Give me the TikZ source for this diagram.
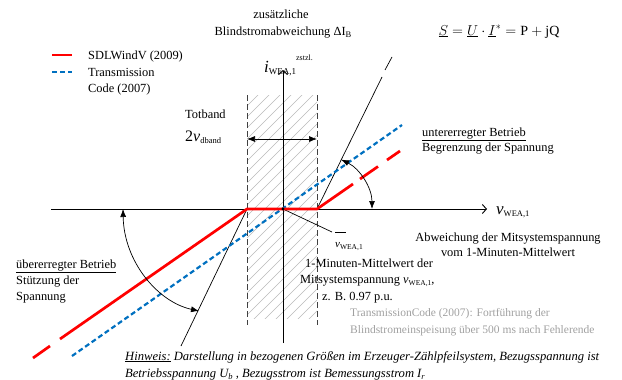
\documentclass[tikz,border=0pt]{standalone}
\usepackage{fontspec}
\setmainfont{Liberation Serif}
\usetikzlibrary{arrows.meta}
\definecolor{sdlred}{RGB}{255,0,0}
\definecolor{tcblue}{RGB}{0,112,192}
\definecolor{notegray}{RGB}{160,160,160}
% small lowered index in text mode
\newcommand{\ix}[2][8.5]{\raisebox{-2.5pt}{\fontsize{#1}{#1}\selectfont #2}}

\begin{document}
\begin{tikzpicture}[x=1pt, y=-1pt, font=\fontsize{12.4}{15}\selectfont,
    txt/.style={inner sep=0pt, anchor=base west},
    ctxt/.style={inner sep=0pt, anchor=base},
    hatch/.style={gray!55, line width=0.5pt},
    band/.style={gray!50!black, dash pattern=on 6pt off 3pt, line width=0.8pt},
    axis/.style={line width=0.9pt, -{Straight Barb[length=4pt, width=9pt]}},
    guide/.style={line width=0.7pt},
    redline/.style={sdlred, line width=2.7pt},
    blueline/.style={tcblue, line width=2.2pt, dash pattern=on 5pt off 3pt},
    angarr/.style={line width=0.7pt, {Latex[length=8pt, width=6pt]}-{Latex[length=8pt, width=6pt]}}]
  \useasboundingbox (0,0) rectangle (622,380);
  % key points on the axes
  \coordinate (O) at (283,209);
  \coordinate (dL) at (247,209);
  \coordinate (dR) at (317,209);
  % dead band: hatching and dashed borders
  \begin{scope}
    \clip (247,95) rectangle (317,318);
    \foreach \k in {0,11,...,308} \draw[hatch] (247,95+\k) -- ++(80,-80);
  \end{scope}
  \coordinate (bLt) at (247,95);  \coordinate (bLb) at (247,325);
  \coordinate (bRt) at (317,95);  \coordinate (bRb) at (317,325);
  \draw[band] (bLt) -- (bLb);
  \draw[band] (bRt) -- (bRb);
  \coordinate (dbL) at (247,139); \coordinate (dbR) at (317,139);
  \draw[angarr] (dbL) -- (dbR);
  % axes
  \coordinate (xs) at (51,209);  \coordinate (xe) at (487,209);
  \coordinate (ys) at (283,343); \coordinate (ye) at (283,70);
  \draw[axis] (xs) -- (xe);
  \draw[axis] (ys) -- (ye);
  % slope limits and mean value pointer
  \coordinate (gL) at (181,346);
  \coordinate (gR) at (382,77);
  \coordinate (gR1) at (385,70); \coordinate (gR2) at (392,57);
  \coordinate (mv) at (332,232);
  \draw[guide] (dL) -- (gL);
  \draw[guide] (dR) -- (gR);
  \draw[guide] (gR1) -- (gR2);
  \draw[guide] (O) -- (mv);
  % characteristics
  \coordinate (tcA) at (72,356); \coordinate (tcB) at (402,125);
  \draw[blueline] (tcA) -- (tcB);
  \coordinate (sA) at (60,339); \coordinate (sB) at (353,184);
  \draw[redline, line join=round] (sA) -- (dL) -- (dR) -- (sB);
  \foreach \a/\b in {{(50,346)}/{(33,358)}, {(360,179)}/{(378,166.5)}, {(387,160)}/{(400,151)}}
    \draw[redline] \a -- \b;
  \fill (O) circle (1.6pt);
  % angle arrows
  \coordinate (aL1) at (123,209); \coordinate (aL2) at (199,311);
  \draw[angarr] (aL1) .. controls (124,262) and (158,302) .. (aL2);
  \coordinate (aR1) at (372,209);
  \draw[angarr] (aR1) arc[start angle=0, end angle=64, radius=55pt];
  % legend
  \coordinate (lr1) at (52,55); \coordinate (lr2) at (72,55);
  \coordinate (lb1) at (52,72); \coordinate (lb2) at (72,72);
  \draw[redline] (lr1) -- (lr2);
  \draw[blueline] (lb1) -- (lb2);
  \node[txt] (leg1) at (88,59) {SDLWindV (2009)};
  \node[txt] (leg2) at (88,76) {Transmission};
  \node[txt] (leg3) at (88,92) {Code (2007)};
  % labels
  \node[ctxt] (zus1) at (281,19) {zusätzliche};
  \node[ctxt] (zus2) at (283,35) {Blindstromabweichung ΔI\ix{B}};
  \node[ctxt] (sform) at (499,35) {\fontsize{14}{16}\selectfont
    $\underline{S} = \underline{U}\cdot\underline{I}^{*} = \mathrm{P} + \mathrm{jQ}$};
  \node[txt] (ilab) at (264,72) {\fontsize{17}{18}\selectfont\textit{i}\ix[9]{WEA,1}%
    \raisebox{12pt}{\fontsize{8}{8}\selectfont zstzl.}};
  \node[txt] (vlab) at (496,214) {\fontsize{17}{18}\selectfont\textit{v}\ix{WEA,1}};
  \node[txt] (tot) at (185,118) {Totband};
  \node[txt] (dband) at (185,141) {\fontsize{16}{18}\selectfont 2\textit{v}\ix{dband}};
  \node[txt] (vbar) at (335,247) {\fontsize{11}{12}\selectfont
    \makebox[0pt][l]{\raisebox{14pt}{\rule{11pt}{0.6pt}}}\textit{v}\ix[7.5]{WEA,1}};
  \node[txt] (ue1) at (422,136) {\underline{untererregter Betrieb}};
  \node[txt] (ue2) at (422,151) {Begrenzung der Spannung};
  \node[ctxt] (ab1) at (508,241) {Abweichung der Mitsystemspannung};
  \node[ctxt] (ab2) at (508,256) {vom 1-Minuten-Mittelwert};
  \node[txt] (mw1) at (305,267) {1-Minuten-Mittelwert der};
  \node[txt] (mw2) at (300,283) {Mitsystemspannung \textit{v}\ix[7.5]{WEA,1},};
  \node[txt] (mw3) at (322,300) {z. B. 0.97 p.u.};
  \node[txt] (ub1) at (16,268) {\underline{übererregter Betrieb}};
  \node[txt] (ub2) at (16,284) {Stützung der};
  \node[txt] (ub3) at (16,300) {Spannung};
  \node[txt, text=notegray, font=\fontsize{11.5}{14}\selectfont] (tc1) at (350,316)
    {TransmissionCode (2007): Fortführung der};
  \node[txt, text=notegray, font=\fontsize{11.5}{14}\selectfont] (tc2) at (350,333)
    {Blindstromeinspeisung über 500 ms nach Fehlerende};
  \node[txt, font=\fontsize{12.6}{15}\selectfont\itshape] (note1) at (125,360)
    {\underline{Hinweis:} Darstellung in bezogenen Größen im Erzeuger-Zählpfeilsystem, Bezugsspannung ist};
  \node[txt, font=\fontsize{12.6}{15}\selectfont\itshape] (note2) at (125,377)
    {Betriebsspannung \textit{U}\ix{b} , Bezugsstrom ist Bemessungsstrom \textit{I}\ix{r}};
\end{tikzpicture}
\end{document}
